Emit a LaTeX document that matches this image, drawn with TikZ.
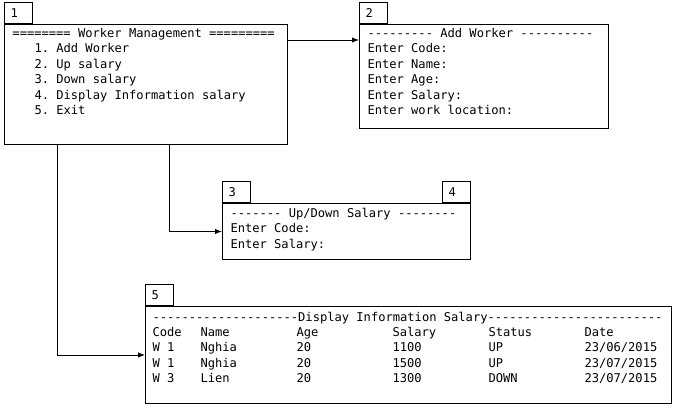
\documentclass[tikz,border=0pt]{standalone}
\usepackage{fontspec}
\setmonofont[Ligatures=NoCommon]{DejaVu Sans Mono}
\usepackage{tikz}
\usetikzlibrary{positioning}
\usetikzlibrary{arrows.meta}
\usetikzlibrary{calc}

\tikzset{
  screen/.style={draw, anchor=north west, inner sep=0pt},
  tabbox/.style={draw, anchor=south west, inner sep=0pt, minimum width=28pt,
    minimum height=21pt, text width=16pt, align=left,
    font=\ttfamily\fontsize{12.1}{15}\selectfont},
  mono/.style={anchor=base west, inner sep=0pt,
    font=\ttfamily\fontsize{12.1}{15}\selectfont},
  flow/.style={-{Latex[length=7pt,width=5.5pt]}},
}

\begin{document}
\begin{tikzpicture}[x=1pt, y=-1pt, line width=1pt]

      \useasboundingbox (0,0) rectangle (675,413);

      \def\rowskip{15.5}

      % main menu
      \node (menu) at (4,24) [screen, minimum width=283pt, minimum height=120pt] {};
      \node (menutab) at (menu.north west) [tabbox] {1};
      \node (menuhead) at (12,37) [mono] {======== Worker Management =========};
      \foreach \item [count=\i] in {1. Add Worker, 2. Up salary, 3. Down salary,
          4. Display Information salary, 5. Exit}
        \node (menuitem\i) at (34,{37+\rowskip*\i}) [mono] {\item};

      % add worker
      \node (addbox) at (359,24) [screen, minimum width=249pt, minimum height=104pt] {};
      \node (addtab) at (addbox.north west) [tabbox] {2};
      \foreach \txt [count=\i from 0] in {--------- Add Worker ----------,
          Enter Code:, Enter Name:, Enter Age:, Enter Salary:, Enter work location:}
        \node (addline\i) at (367,{37+\rowskip*\i}) [mono] {\txt};

      % up/down salary
      \node (updown) at (222,203) [screen, minimum width=248pt, minimum height=56pt] {};
      \node (uptab) at (updown.north west) [tabbox] {3};
      \node (downtab) at (updown.north east) [tabbox, anchor=south east] {4};
      \foreach \txt [count=\i from 0] in {------- Up/Down Salary --------,
          Enter Code:, Enter Salary:}
        \node (upline\i) at (230,{217+\rowskip*\i}) [mono] {\txt};

      % display information
      \node (display) at (145,306) [screen, minimum width=526pt, minimum height=97pt] {};
      \node (disptab) at (display.north west) [tabbox] {5};
      \node (disphead) at (152,321) [mono]
        {--------------------Display Information Salary------------------------};
      \foreach \cx/\ctitle/\ca/\cb/\cc [count=\j] in {152/Code/W 1/W 1/W 3,
          200/Name/Nghia/Nghia/Lien, 296/Age/20/20/20, 392/Salary/1100/1500/1300,
          488/Status/UP/UP/DOWN, 584/Date/{23/06/2015}/{23/07/2015}/{23/07/2015}} {
        \node (col\j head) at (\cx,336) [mono] {\ctitle};
        \node (col\j a) at (\cx,{336+\rowskip}) [mono] {\ca};
        \node (col\j b) at (\cx,{336+2*\rowskip}) [mono] {\cb};
        \node (col\j c) at (\cx,{336+3*\rowskip}) [mono] {\cc};
      }

      \coordinate (addin) at ($(addbox.north west)+(0,16)$);
      \draw[flow] (menu.east |- addin) -- (addin);
      \draw[flow] ($(menu.south west)+(165,0)$) |- (updown.west);
      \draw[flow] ($(menu.south west)+(53,0)$) |- (display.west);

\end{tikzpicture}
\end{document}
